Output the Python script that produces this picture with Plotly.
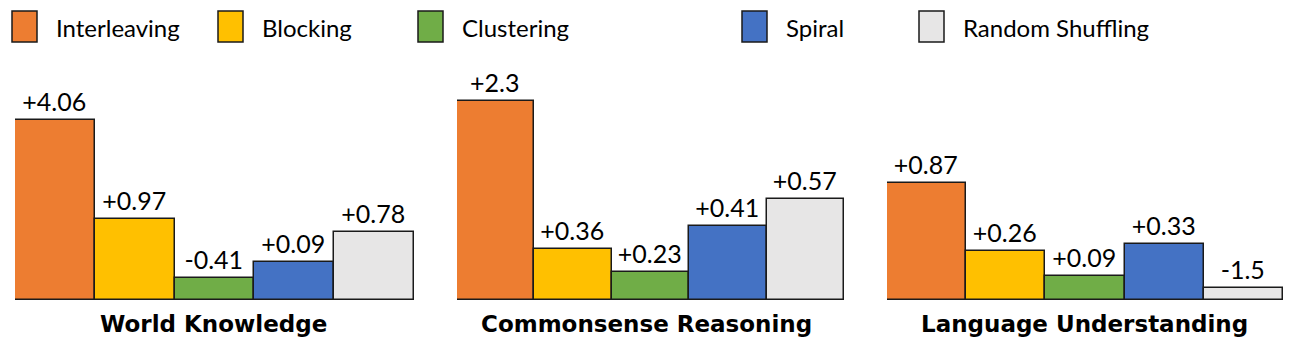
import plotly.graph_objects as go

W, H = 1291, 346

methods = ["Interleaving", "Blocking", "Clustering", "Spiral", "Random Shuffling"]
colors = ["#ED7D31", "#FFC000", "#70AD47", "#4472C4", "#E7E6E6"]
groups = ["World Knowledge", "Commonsense Reasoning", "Language Understanding"]

# bar heights (relative units) and the printed deltas
heights_world = [180, 81, 22, 38, 68]
heights_common = [199, 51, 28, 74, 101]
heights_lang = [117, 49, 24, 56, 12]
labels_world = ["+4.06", "+0.97", "-0.41", "+0.09", "+0.78"]
labels_common = ["+2.3", "+0.36", "+0.23", "+0.41", "+0.57"]
labels_lang = ["+0.87", "+0.26", "+0.09", "+0.33", "-1.5"]

heights = [heights_world, heights_common, heights_lang]
labels = [labels_world, labels_common, labels_lang]

M_T, M_B = 60, 46
PLOT_H = H - M_T - M_B

def py(p):  # pixel row -> paper y
    return (H - M_B - p) / PLOT_H

fig = go.Figure()
axis_ids = ["", "2", "3"]
for gi in range(3):
    fig.add_trace(go.Bar(
        x=methods, y=heights[gi], text=labels[gi],
        textposition="outside", cliponaxis=False, constraintext="none",
        textfont=dict(family="Lato", size=25, color="black"),
        marker=dict(color=colors, line=dict(color="#1a1a1a", width=1.5)),
        xaxis="x" + axis_ids[gi], yaxis="y" + axis_ids[gi],
        showlegend=False, hoverinfo="skip",
    ))

domains = [(15, 414), (457, 844), (887, 1283)]
layout = dict(
    width=W, height=H,
    margin=dict(l=0, r=0, t=M_T, b=M_B),
    paper_bgcolor="white", plot_bgcolor="white",
    bargap=0, showlegend=False,
)
for gi, (a, b) in enumerate(domains):
    aid = axis_ids[gi]
    layout["xaxis" + aid] = dict(domain=[a / W, b / W], range=[-0.5, 4.5],
                                 showticklabels=False, showgrid=False,
                                 zeroline=False, showline=False, ticks="",
                                 anchor="y" + aid, fixedrange=True)
    layout["yaxis" + aid] = dict(range=[0, PLOT_H], visible=False,
                                 anchor="x" + aid, fixedrange=True)
fig.update_layout(**layout)

# group titles
title_cx = [213, 646, 1084]
for gi, g in enumerate(groups):
    fig.add_annotation(text="<b>" + g + "</b>", xref="paper",
                       x=title_cx[gi] / W, yref="paper", y=py(324), xanchor="center", yanchor="middle",
                       showarrow=False, font=dict(family="DejaVu Sans", size=23, color="black"))

# legend drawn as swatches + text
box_x = [12, 218, 418, 742, 919]
for i, name in enumerate(methods):
    fig.add_shape(type="rect", xref="paper", yref="paper",
                  x0=box_x[i] / W, x1=(box_x[i] + 25) / W,
                  y0=py(42), y1=py(11),
                  fillcolor=colors[i], line=dict(color="#1a1a1a", width=1.5))
    fig.add_annotation(text=name, xref="paper", yref="paper",
                       x=(box_x[i] + 42) / W, y=py(27), xanchor="left", yanchor="middle",
                       showarrow=False, font=dict(family="Lato", size=24, color="black"))

fig.write_html("out.html")
